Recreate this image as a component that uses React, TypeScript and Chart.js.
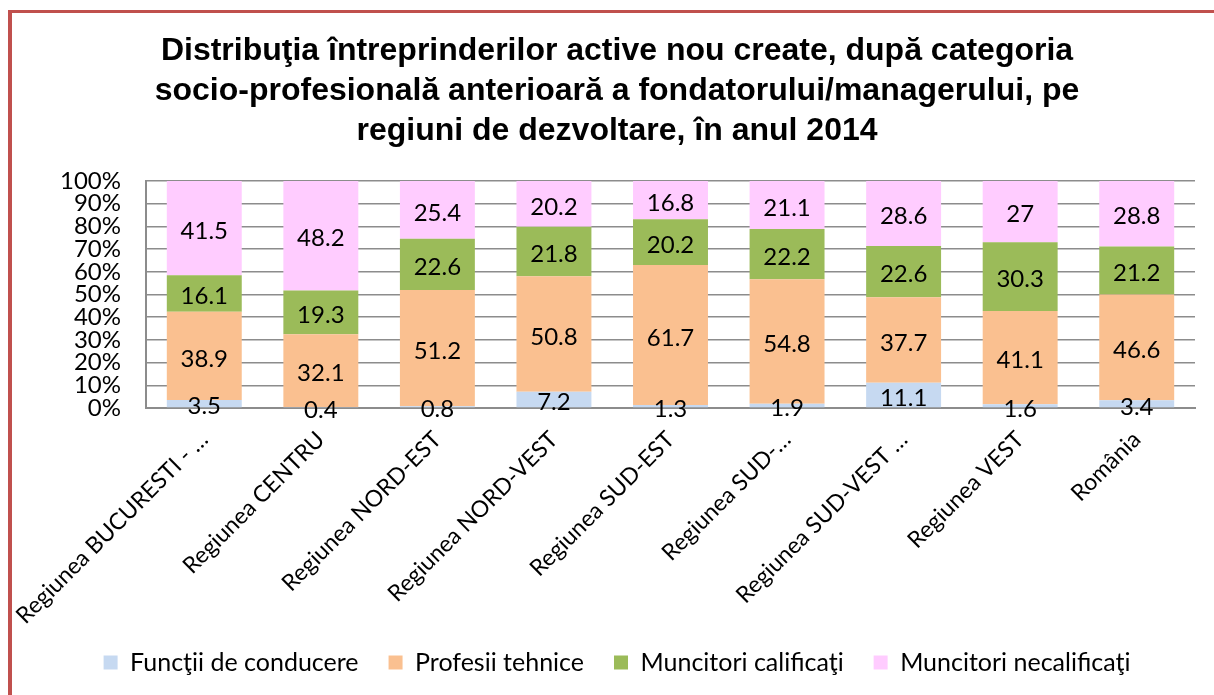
import React, { useEffect, useRef } from "react";
import { Chart, registerables } from "chart.js";

Chart.register(...registerables);

const categories = [
  "Regiunea BUCURESTI - …",
  "Regiunea CENTRU",
  "Regiunea NORD-EST",
  "Regiunea NORD-VEST",
  "Regiunea SUD-EST",
  "Regiunea SUD-…",
  "Regiunea SUD-VEST …",
  "Regiunea VEST",
  "România",
];

const seriesNames = [
  "Funcţii de conducere",
  "Profesii tehnice",
  "Muncitori calificaţi",
  "Muncitori necalificaţi",
];

const functiiConducere = [3.5, 0.4, 0.8, 7.2, 1.3, 1.9, 11.1, 1.6, 3.4];
const profesiiTehnice = [38.9, 32.1, 51.2, 50.8, 61.7, 54.8, 37.7, 41.1, 46.6];
const muncitoriCalificati = [16.1, 19.3, 22.6, 21.8, 20.2, 22.2, 22.6, 30.3, 21.2];
const muncitoriNecalificati = [41.5, 48.2, 25.4, 20.2, 16.8, 21.1, 28.6, 27, 28.8];

const yTicks = [0, 10, 20, 30, 40, 50, 60, 70, 80, 90, 100];

const titleLines = [
  "Distribuţia întreprinderilor active nou create, după categoria",
  "socio-profesională anterioară a fondatorului/managerului, pe",
  "regiuni de dezvoltare, în anul 2014",
];

const colors = ["#C6D9F1", "#FAC090", "#9BBB59", "#FFCCFF"];

const FONT = "Lato, 'Noto Sans', sans-serif";
const TITLE_FONT = "'Liberation Sans', Arial, Helvetica, sans-serif";

const dataLabelPlugin = {
  id: "segmentLabels",
  afterDatasetsDraw(chart: any) {
    const ctx = chart.ctx;
    ctx.save();
    ctx.font = `24px ${FONT}`;
    ctx.fillStyle = "#000";
    ctx.textAlign = "center";
    ctx.textBaseline = "middle";
    chart.data.datasets.forEach((ds: any, di: number) => {
      const meta = chart.getDatasetMeta(di);
      meta.data.forEach((el: any, i: number) => {
        const v = ds.data[i];
        const y = (el.y + el.base) / 2;
        ctx.fillText(String(v), el.x, y + 3);
      });
    });
    ctx.restore();
  },
};

export default function App() {
  const ref = useRef<HTMLCanvasElement | null>(null);

  useEffect(() => {
    if (!ref.current) return;
    const seriesData = [functiiConducere, profesiiTehnice, muncitoriCalificati, muncitoriNecalificati];
    const chart = new Chart(ref.current, {
      type: "bar",
      data: {
        labels: categories,
        datasets: seriesNames.map((name, i) => ({
          label: name,
          data: seriesData[i],
          backgroundColor: colors[i],
          borderWidth: 0,
          barPercentage: 0.643,
          categoryPercentage: 1,
        })),
      },
      options: {
        animation: false,
        responsive: false,
        events: [],
        layout: { padding: { left: 39, right: 19, top: 0, bottom: 10 } },
        plugins: {
          title: {
            display: true,
            text: titleLines,
            color: "#000",
            font: { family: TITLE_FONT, size: 32, weight: "bold", lineHeight: 1.25 },
            padding: { top: 31, bottom: 30 },
          },
          legend: {
            display: true,
            position: "bottom",
            labels: {
              boxWidth: 14,
              boxHeight: 14,
              padding: 30,
              color: "#000",
              font: { family: FONT, size: 25 },
            },
          },
          tooltip: { enabled: false },
        },
        scales: {
          x: {
            stacked: true,
            grid: { display: false, drawTicks: false },
            border: { display: true, color: "#8C8C8C", width: 2 },
            ticks: {
              color: "#000",
              font: { family: FONT, size: 23 },
              maxRotation: 45,
              minRotation: 45,
              padding: 18,
              autoSkip: false,
            },
            afterFit(scale: any) {
              scale.paddingLeft = 0;
              scale.paddingRight = 0;
              scale.height = 212;
              // let the long rotated labels extend past the axis box without clipping
              scale._computeLabelArea = () => null;
            },
          },
          y: {
            stacked: true,
            min: 0,
            max: 100,
            afterBuildTicks(scale: any) {
              scale.ticks = yTicks.map((v) => ({ value: v }));
            },
            afterFit(scale: any) {
              scale.width = 107;
            },
            grid: { color: "#8C8C8C", lineWidth: 1.5, drawTicks: false },
            border: { display: true, color: "#8C8C8C", width: 2 },
            ticks: {
              color: "#000",
              font: { family: FONT, size: 24 },
              padding: 25,
              autoSkip: false,
              callback: (v: any) => `${v}%`,
            },
          },
        },
      },
      plugins: [dataLabelPlugin],
    });
    return () => chart.destroy();
  }, []);

  return (
    <div style={{ position: "fixed", left: 0, top: 0, width: 1214, height: 695, overflow: "hidden", background: "#fff" }}>
      <div
        style={{
          position: "absolute",
          left: 8,
          top: 10,
          width: 1300,
          height: 800,
          borderLeft: "4px solid #C0504D",
          borderTop: "3px solid #C0504D",
        }}
      />
      <canvas ref={ref} width={1214} height={695} style={{ position: "absolute", left: 0, top: 0 }} />
    </div>
  );
}
